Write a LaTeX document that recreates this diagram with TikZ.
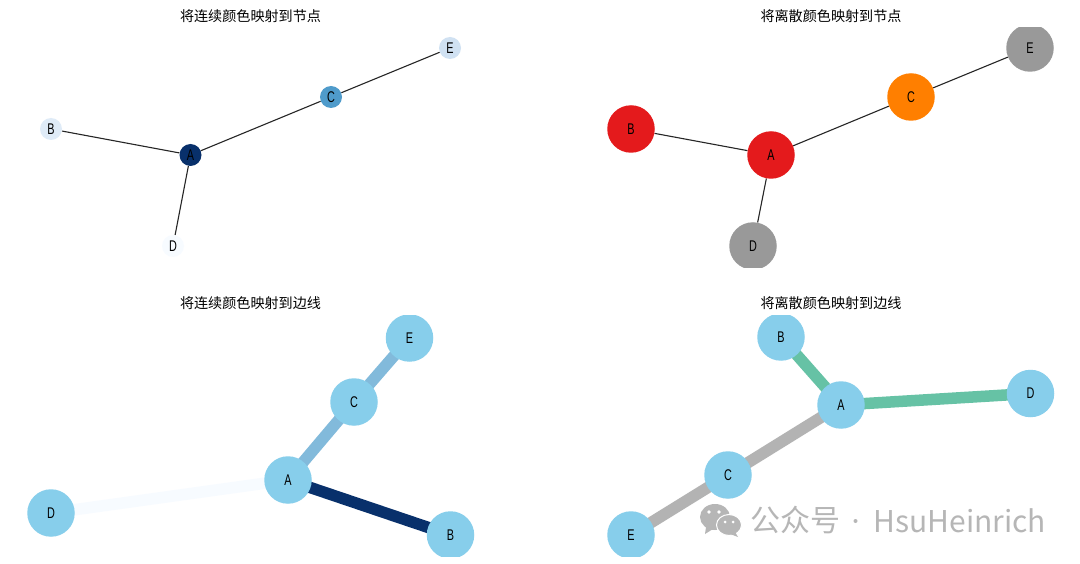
\documentclass[tikz,border=0pt]{standalone}
\usepackage{fontspec}
\usetikzlibrary{backgrounds}
\pgfdeclarelayer{bottom}
\pgfsetlayers{bottom,background,main}
\newfontfamily\cjkfont{Noto Sans CJK SC}
\newfontfamily\labfont[FakeStretch=0.7]{Liberation Sans}
\definecolor{bluedark}{HTML}{08306B}
\definecolor{bluemid}{HTML}{4F9BCB}
\definecolor{bluelightb}{HTML}{DFEBF7}
\definecolor{bluelighte}{HTML}{D0E1F2}
\definecolor{bluepale}{HTML}{F7FBFF}
\definecolor{edgeblue}{HTML}{82BADB}
\definecolor{setred}{HTML}{E41A1C}
\definecolor{setorange}{HTML}{FF7F00}
\definecolor{setgray}{HTML}{999999}
\definecolor{skyb}{HTML}{87CEEB}
\definecolor{setgreen}{HTML}{66C2A5}
\definecolor{edgegray}{HTML}{B3B3B3}
\definecolor{wm}{HTML}{B6B6B6}
\tikzset{
  small dot/.style={circle,inner sep=0pt,minimum size=22pt,font=\labfont\fontsize{15.5}{15.5}\selectfont,text=black},
  big dot/.style={circle,inner sep=0pt,minimum size=47.5pt,font=\labfont\fontsize{15.5}{15.5}\selectfont,text=black},
  thin edge/.style={draw=black!85,line width=1.1pt},
  thick edge/.style={line width=11.5pt,shorten <=-3pt,shorten >=-3pt},
  title text/.style={font=\cjkfont\fontsize{14.1}{14.1}\selectfont,text=black,inner sep=0pt},
  mark text/.style={font=\cjkfont\fontsize{30}{30}\selectfont,text=wm,inner sep=0pt,anchor=west}
}
\begin{document}
\begin{tikzpicture}[x=1pt,y=-1pt]
\useasboundingbox (0,0) rectangle (1080,564);
\begin{pgfonlayer}{bottom}
\fill[white] (0,0) rectangle (1080,564);
\end{pgfonlayer}
% titles
\node[title text] (t1) at (250.5,16) {将连续颜色映射到节点};
\node[title text] (t2) at (831,16) {将离散颜色映射到节点};
\node[title text] (t3) at (250.5,303) {将连续颜色映射到边线};
\node[title text] (t4) at (831,303) {将离散颜色映射到边线};
% panel 1
\node[small dot,fill=bluedark] (a1) at (190.5,155) {A};
\node[small dot,fill=bluelightb] (b1) at (51,129) {B};
\node[small dot,fill=bluemid] (c1) at (331,97) {C};
\node[small dot,fill=bluepale] (d1) at (173,246) {D};
\node[small dot,fill=bluelighte] (e1) at (450,48) {E};
\begin{pgfonlayer}{background}
\draw[thin edge] (a1) -- (b1);
\draw[thin edge] (a1) -- (c1);
\draw[thin edge] (a1) -- (d1);
\draw[thin edge] (c1) -- (e1);
\end{pgfonlayer}
% panel 2
\begin{scope}
\clip (560,27.5) rectangle (1080,267.5);
\node[big dot,fill=setred] (a2) at (771,155) {A};
\node[big dot,fill=setred] (b2) at (631,129) {B};
\node[big dot,fill=setorange] (c2) at (911,97) {C};
\node[big dot,fill=setgray] (d2) at (753,246) {D};
\node[big dot,fill=setgray] (e2) at (1030,48) {E};
\end{scope}
\begin{pgfonlayer}{background}
\draw[thin edge] (a2) -- (b2);
\draw[thin edge] (a2) -- (c2);
\draw[thin edge] (a2) -- (d2);
\draw[thin edge] (c2) -- (e2);
\end{pgfonlayer}
% panel 3
\begin{scope}
\clip (0,316) rectangle (540,556);
\node[big dot,fill=skyb] (a3) at (288,480) {A};
\node[big dot,fill=skyb] (b3) at (450.5,535) {B};
\node[big dot,fill=skyb] (c3) at (354,402) {C};
\node[big dot,fill=skyb] (d3) at (51,513) {D};
\node[big dot,fill=skyb] (e3) at (409.5,338) {E};
\end{scope}
\begin{pgfonlayer}{background}
\draw[thick edge,draw=bluedark] (a3) -- (b3);
\draw[thick edge,draw=edgeblue] (a3) -- (c3);
\draw[thick edge,draw=bluepale] (a3) -- (d3);
\draw[thick edge,draw=edgeblue] (c3) -- (e3);
\end{pgfonlayer}
% panel 4
\begin{scope}
\clip (560,316) rectangle (1080,556);
\node[big dot,fill=skyb] (a4) at (841,405) {A};
\node[big dot,fill=skyb] (b4) at (781,337) {B};
\node[big dot,fill=skyb] (c4) at (728,475) {C};
\node[big dot,fill=skyb] (d4) at (1030.5,393.5) {D};
\node[big dot,fill=skyb] (e4) at (631,535) {E};
\end{scope}
\begin{pgfonlayer}{background}
\draw[thick edge,draw=setgreen] (a4) -- (b4);
\draw[thick edge,draw=edgegray] (a4) -- (c4);
\draw[thick edge,draw=setgreen] (a4) -- (d4);
\draw[thick edge,draw=edgegray] (c4) -- (e4);
\end{pgfonlayer}
% watermark
\fill[wm] (715,517) ellipse [x radius=15,y radius=13];
\fill[wm] (706,527) -- (705,534) -- (713,529) -- cycle;
\fill[wm,draw=white,line width=1pt] (729,525) ellipse [x radius=12.5,y radius=10.5];
\fill[wm] (735,532) -- (738,537) -- (730,534) -- cycle;
\fill[white] (709,512) circle (1.8) (719,512) circle (1.8) (725,522) circle (1.5) (733,522) circle (1.5);
\node[mark text] (w1) at (750,520.5) {公众号};
\fill[wm] (855.5,521) circle (2);
\node[mark text] (w2) at (873.5,520.5) {HsuHeinrich};
\end{tikzpicture}
\end{document}
